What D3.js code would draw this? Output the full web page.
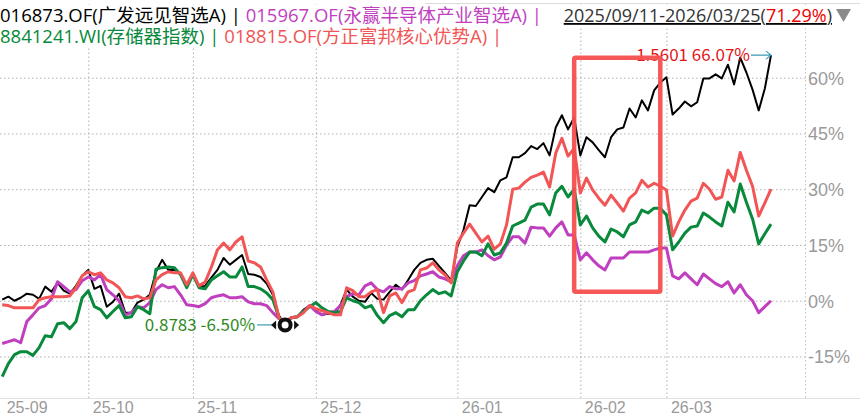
<!DOCTYPE html>
<html>
<head>
<meta charset="utf-8">
<script src="https://cdn.jsdelivr.net/npm/d3@7"></script>
<style>
  body { margin: 0; background: #fff; }
  svg { display: block; font-family: "Noto Sans CJK SC", "Noto Sans", sans-serif; }
</style>
</head>
<body>
<svg id="chart" width="860" height="420"></svg>
<script>
// month labels sit on the first trading day of each month (index into the daily series)
const monthLabels = ["25-09", "25-10", "25-11", "25-12", "26-01", "26-02", "26-03"];
const monthStarts = [0, 14, 31, 51, 74, 94, 108];
const yTicks = [60, 45, 30, 15, 0, -15];

const seriesNames = ["016873.OF(广发远见智选A)", "015967.OF(永赢半导体产业智选A)", "8841241.WI(存储器指数)", "018815.OF(方正富邦核心优势A)"];
const periodText = "2025/09/11-2026/03/25";
const periodReturn = "71.29%";
const navMin = 0.8783;
const navLast = 1.5601;

// cumulative return in %, one value per trading day
const fund016873 = [0.3, 1.1, 0, 0.8, 1.9, 1.6, 0.5, 3.8, 2.4, 4.8,
  2.7, 1.9, 4, 6.7, 8.3, 3.2, 4, -1.6, -0.3, 1.9,
  -3.2, -3.2, -0.5, 0.3, 1.6, 7.8, 11, 8.3, 8.3, 7.2,
  3.8, 7.5, 3.8, 4, 6.2, 8.3, 11.5, 9.7, 11, 12.3,
  7.2, 7, 6.4, 4.6, 1.6, -4, -6.5, -4.6, -4.3, -2.4,
  -1.3, -2.7, -3.8, -3.5, -3.5, -1.1, 3, 1.1, 0, -0.3,
  2.1, 0.5, 0.3, 2.4, 4.3, 3, 5.6, 8.3, 10.2, 11,
  11.3, 9.4, 7.5, 5.4, 14.5, 19, 25.7, 25.5, 27.9, 30.3,
  29.2, 32.4, 33.2, 38.6, 38.6, 39.7, 41.6, 40.8, 42.4, 39.1,
  46.6, 49.9, 46.1, 49.3, 39.1, 44, 42.6, 40.5, 38.6, 44,
  46.1, 46.6, 51.7, 49.3, 53.9, 51.2, 56.6, 58.7, 60.1, 50.1,
  51.7, 53.6, 52.3, 53.4, 59.8, 59.8, 60.9, 59.8, 63.5, 58.2,
  65.4, 61.4, 56.8, 51.2, 57.1, 66.07];

const fund015967 = [-11.5, -11, -10.5, -11.3, -5.6, -3.8, -1.9, -1.3, 0.5, 5.1,
  3.8, 2.4, 3, 5.4, 6.4, 5.6, 7, 3, 1.6, 0,
  -3.8, -3.2, -1.6, -1.9, -0.5, 3, 4.3, 3.5, 3.8, 1.6,
  -1.1, -1.3, -1.6, -0.8, 0.8, 1.3, 1.6, 0.8, 0.8, 1.1,
  -0.3, -0.8, -0.8, -1.3, -3.2, -4.8, -5.6, -4.6, -4.3, -2.9,
  -1.3, -2.9, -3.8, -3.2, -2.9, -1.3, 1.1, 1.9, 1.6, 4,
  4.8, 3, 2.4, 3.8, 3.2, 3.2, 4.8, 5.4, 6.7, 7.2,
  7.8, 6.4, 5.9, 5.1, 9.4, 12.1, 13.1, 13.1, 13.7, 12.1,
  11, 11.8, 15, 17.2, 17.2, 15.5, 19.8, 19.6, 19.6, 17.4,
  19.6, 21.2, 17.7, 17.7, 11, 12.9, 11, 9.4, 8.3, 11.5,
  11.5, 11.5, 13.1, 13.1, 13.1, 13.1, 13.7, 14.2, 14.2, 6.7,
  5.9, 7.5, 5.9, 4.3, 7.2, 5.9, 4.6, 3.8, 5.1, 2.1,
  4.3, 1.6, 0, -3.2, -1.6, 0];

const index8841241 = [-20.4, -16.9, -14.5, -13.7, -13.7, -14.7, -12.6, -9.4, -9.7, -6.2,
  -5.9, -7.5, -5.6, 0.8, 2.7, -1.6, -2.4, -4.6, -2.9, -1.3,
  -4.6, -4.3, -1.6, -2.4, -3.5, 8.5, 8.9, 9.1, 8.9, 7,
  3.5, 7, 3.5, 3.2, 5.6, 6.7, 7.8, 6.4, 6.4, 9.1,
  3.8, 3.8, 3.2, 2.1, 0.3, -4.6, -6.5, -4.6, -4.3, -2.9,
  -1.6, -0.5, -1.9, -2.9, -3.2, -2.9, 0.8, 0, -0.5, -1.9,
  -1.3, -4, -5.9, -4, -3.2, -4.3, -2.4, -2.4, 0, 1.6,
  3, 1.9, 2.4, 1.3, 7.8, 10.7, 13.1, 13.1, 12.1, 15.3,
  12.3, 12.9, 15.5, 20.1, 20.9, 21.7, 25.2, 26, 26, 23.1,
  29, 30.8, 27.9, 30, 20.4, 22.8, 19.6, 17.4, 15.8, 19.3,
  18.5, 17.2, 20.4, 21.2, 24.4, 23.6, 24.9, 24.9, 23.1, 13.7,
  15.8, 18.2, 19.8, 20.1, 23.6, 22.5, 21.2, 20.1, 26.5, 23.9,
  31.4, 26.5, 22, 15.3, 18, 20.6];

const fund018815 = [-1.1, -1.3, -1.9, -1.9, -1.9, -1.9, 0.3, 0.8, 1.1, 1.1,
  1.1, 1.3, 3.5, 6.7, 7.8, 7, 7.5, 5.6, 4.8, 3.5,
  1.1, 0.8, 1.3, 0.5, 0.8, 5.6, 7, 7.8, 7.5, 7.5,
  4.3, 7.5, 4, 5, 9, 13.7, 15.5, 13.7, 15.8, 17.2,
  10.7, 10.2, 9.1, 5.6, 2.4, -4.6, -5.9, -4.6, -4.3, -3.2,
  -1.3, -2.1, -2.7, -3.2, -3.8, -3.8, 3.5, 2.7, 1.1, 1.1,
  2.4, 3, -3.2, 1.3, 2.1, -0.5, 2.4, 3, 8.3, 8.8,
  10.2, 8.3, 7, 4.8, 15.5, 18.2, 20.6, 18.2, 15.8, 17.4,
  13.9, 15.3, 20.4, 30, 30.3, 31.9, 33.2, 33.8, 34.6, 30.6,
  39.7, 43.7, 38.9, 41, 29, 33, 29.8, 27.6, 25.7, 28.4,
  26.3, 24.1, 27.6, 29, 32.4, 30.6, 31.6, 30.8, 29.8, 17.4,
  21.2, 24.4, 26.8, 27.6, 31.6, 30, 27.3, 27.9, 35.1, 32.2,
  39.9, 35.1, 30.8, 22.8, 26.3, 30];

// highlighted window (trading-day index / % range)
const boxFrom = 93, boxTo = 107, boxTop = 65.4, boxBottom = 2.4;

const colors = ["#000000", "#bf3fbf", "#08893b", "#f25555"];
const series = [fund016873, fund015967, index8841241, fund018815];

const svg = d3.select("#chart");
svg.append("rect").attr("width", 860).attr("height", 420).attr("fill", "#fff");

const x = d3.scaleLinear().domain([0, fund016873.length - 1]).range([2.2, 771]);
const y = d3.scaleLinear().domain([-15, 60]).range([356.5, 77.7]);

// top border + bottom axis line
svg.append("line").attr("x1", 425).attr("x2", 860).attr("y1", 3.5).attr("y2", 3.5)
  .attr("stroke", "#dcdcdc");
svg.append("line").attr("x1", 0).attr("x2", 860).attr("y1", 398.5).attr("y2", 398.5)
  .attr("stroke", "#e2e2e2");

// horizontal grid + right labels
const yAxis = svg.append("g").attr("class", "yAxis")
  .call(d3.axisRight(y).tickValues(yTicks).tickSize(806).tickPadding(2).tickFormat(d => d + "%"));
yAxis.select(".domain").remove();
yAxis.selectAll("line").attr("stroke", "#b0b0b0").attr("stroke-dasharray", "1.5,2.5");
yAxis.selectAll("text").attr("fill", "#9a9a9a").style("font-size", "18px").attr("dy", "0.35em");

// vertical month grid + labels
const xAxis = svg.append("g").attr("class", "xAxis").attr("transform", "translate(0,398)")
  .call(d3.axisBottom(x).tickValues(monthStarts).tickSize(-394)
    .tickFormat((d, i) => monthLabels[i]));
xAxis.select(".domain").remove();
xAxis.selectAll("line").attr("stroke", "#b0b0b0").attr("stroke-dasharray", "1.5,2.5")
  .style("display", (d, i) => i === 0 ? "none" : null);
xAxis.selectAll("text").attr("fill", "#9a9a9a").style("font-size", "16px")
  .attr("text-anchor", "start").attr("x", 4).attr("y", 10).attr("dy", "0.32em");

// right plot border
svg.append("line").attr("x1", 805.5).attr("x2", 805.5).attr("y1", 4).attr("y2", 398)
  .attr("stroke", "#c4c4c4").attr("stroke-dasharray", "1.5,2.5");

// series lines
const line = d3.line().x((d, i) => x(i)).y(d => y(d));
svg.selectAll(".series")
  .data(series)
  .enter().append("path")
  .attr("class", "series")
  .attr("d", line)
  .attr("fill", "none")
  .attr("stroke", (d, i) => colors[i])
  .attr("stroke-width", (d, i) => i === 0 ? 2 : 3)
  .attr("stroke-linejoin", "round");

// min marker on the first fund
const minI = d3.minIndex(fund016873);
const mx = x(minI), my = y(fund016873[minI]);
svg.append("text").attr("x", mx - 30).attr("y", my).attr("dy", "0.35em")
  .attr("text-anchor", "end").attr("fill", "#2f8a1e").style("font-size", "17px")
  .text(navMin.toFixed(4) + " " + fund016873[minI].toFixed(2) + "%");
svg.append("line").attr("x1", mx - 28).attr("x2", mx - 12).attr("y1", my).attr("y2", my)
  .attr("stroke", "#3a9bb5").attr("stroke-width", 1.2);
svg.append("path").attr("d", `M${mx - 14},${my} l5,-4.5 v9 z`).attr("fill", "#111");
svg.append("path").attr("d", `M${mx + 14},${my} l-5,-4.5 v9 z`).attr("fill", "#111");
svg.append("circle").attr("cx", mx).attr("cy", my).attr("r", 5.5)
  .attr("fill", "#fff").attr("stroke", "#111").attr("stroke-width", 4);

// last value marker
const lastI = fund016873.length - 1;
const lx = x(lastI), ly = y(fund016873[lastI]);
svg.append("text").attr("x", lx - 21).attr("y", ly).attr("dy", "0.35em")
  .attr("text-anchor", "end").attr("fill", "#e3161c").style("font-size", "17px")
  .text(navLast.toFixed(4) + " " + fund016873[lastI].toFixed(2) + "%");
svg.append("path").attr("d", `M${lx - 20},${ly} H${lx} m-5,-4 l5,4 l-5,4`)
  .attr("fill", "none").attr("stroke", "#3a9bb5").attr("stroke-width", 1.2);

// highlight box
svg.append("rect")
  .attr("x", x(boxFrom)).attr("y", y(boxTop))
  .attr("width", x(boxTo) - x(boxFrom)).attr("height", y(boxBottom) - y(boxTop))
  .attr("fill", "none").attr("stroke", "#f64f4f").attr("stroke-width", 4.5)
  .attr("stroke-opacity", 0.95).attr("rx", 1.5);

// header
const header = svg.append("g")
  .style("font-family", "'Open Sans', 'Noto Sans CJK SC', sans-serif");
function headerLine(items, yPos, x0) {
  const bg = header.append("rect").attr("fill", "#fff");
  const t = header.append("text").attr("x", x0).attr("y", yPos).style("font-size", "18.5px");
  items.forEach(k => {
    t.append("tspan").attr("fill", colors[k]).text(seriesNames[k] + " | ");
  });
  const b = t.node().getBBox();
  bg.attr("x", b.x).attr("y", yPos - 17).attr("width", b.width + 4).attr("height", 21);
}
headerLine([0, 1], 22, 0);
headerLine([2, 3], 43, 0);

const bgR = header.append("rect").attr("fill", "#fff");
const period = header.append("text").attr("x", 832).attr("y", 22).style("font-size", "18px")
  .attr("text-anchor", "end").style("text-decoration", "underline");
period.append("tspan").attr("fill", "#333").text(periodText + "(");
period.append("tspan").attr("fill", "#e00").text(periodReturn);
period.append("tspan").attr("fill", "#333").text(")");
const pb = period.node().getBBox();
bgR.attr("x", pb.x).attr("y", 5).attr("width", 860 - pb.x).attr("height", 21);
header.append("path").attr("d", "M836,9 H851 L843.5,22 Z").attr("fill", "#8a8a8a");
</script>
</body>
</html>
